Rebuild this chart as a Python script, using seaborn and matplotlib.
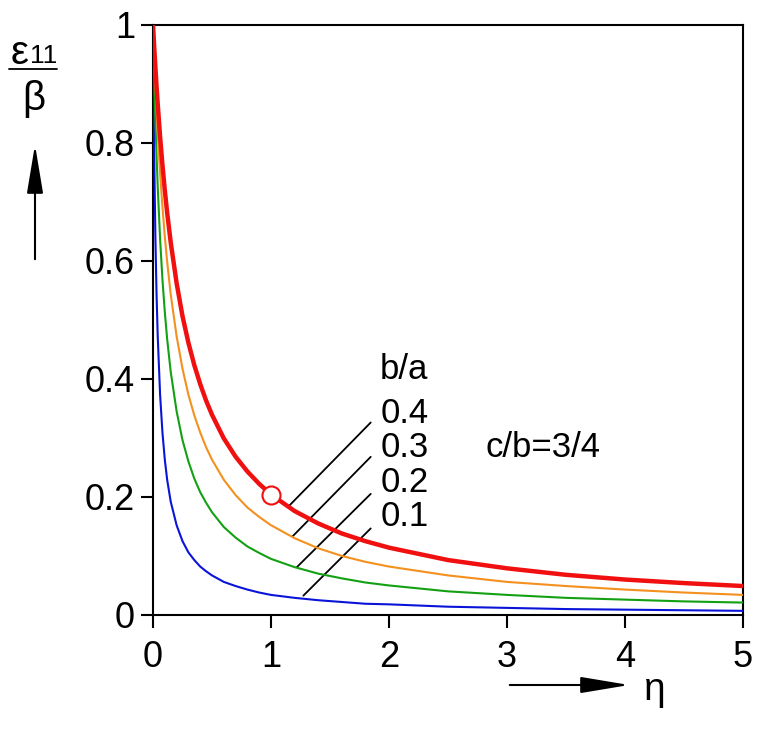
import matplotlib
matplotlib.use("Agg")
import matplotlib.pyplot as plt
import pandas as pd
import seaborn as sns

# eta grid and curve values
eta = [0, 0.01, 0.02, 0.03, 0.04, 0.06, 0.08, 0.1, 0.12, 0.15, 0.2, 0.25, 0.3,
       0.35, 0.4, 0.45, 0.5, 0.6, 0.7, 0.8, 0.9, 1.0, 1.2, 1.4, 1.6, 1.8, 2.0,
       2.5, 3.0, 3.5, 4.0, 4.5, 5.0]
eps_01 = [1, 0.781, 0.641, 0.543, 0.472, 0.373, 0.309, 0.263, 0.229, 0.192, 0.152,
          0.125, 0.106, 0.093, 0.082, 0.074, 0.067, 0.056, 0.049, 0.043, 0.038,
          0.034, 0.029, 0.025, 0.022, 0.019, 0.018, 0.014, 0.012, 0.010, 0.009,
          0.008, 0.007]
eps_02 = [1, 0.913, 0.840, 0.778, 0.725, 0.637, 0.568, 0.513, 0.467, 0.412, 0.345,
          0.296, 0.260, 0.231, 0.208, 0.190, 0.174, 0.149, 0.131, 0.116, 0.105,
          0.095, 0.081, 0.070, 0.062, 0.055, 0.050, 0.040, 0.034, 0.029, 0.026,
          0.023, 0.021]
eps_03 = [1, 0.947, 0.899, 0.856, 0.817, 0.749, 0.691, 0.641, 0.598, 0.543, 0.472,
          0.417, 0.373, 0.338, 0.309, 0.284, 0.263, 0.229, 0.203, 0.182, 0.166,
          0.152, 0.130, 0.113, 0.100, 0.090, 0.082, 0.067, 0.056, 0.049, 0.043,
          0.038, 0.034]
eps_04 = [1, 0.962, 0.928, 0.895, 0.865, 0.810, 0.762, 0.719, 0.681, 0.631, 0.562,
          0.506, 0.461, 0.423, 0.391, 0.363, 0.339, 0.299, 0.268, 0.243, 0.222,
          0.204, 0.176, 0.155, 0.138, 0.125, 0.114, 0.093, 0.079, 0.068, 0.060,
          0.054, 0.049]

ratios = ["0.1", "0.2", "0.3", "0.4"]
colors = ["#0a14d8", "#13a013", "#f4901e", "#f01010"]
widths = [1.5, 1.5, 1.5, 3.2]

# marked point on the b/a=0.4 curve
mark_eta = [1.0]
mark_eps = [0.204]

# leader lines: (start on curve) -> (end near label)
lead_x0 = [1.274, 1.218, 1.184, 1.147]
lead_y0 = [0.0327, 0.0808, 0.1334, 0.1836]
lead_x1 = [1.845, 1.845, 1.845, 1.845]
lead_y1 = [0.1466, 0.2051, 0.2678, 0.3260]
label_y = [0.166, 0.224, 0.283, 0.342]

sns.set_style("ticks")
plt.rcParams["font.family"] = ["Liberation Sans", "DejaVu Sans"]
plt.rcParams["text.color"] = "black"

df = pd.DataFrame({
    "eta": eta * 4,
    "eps": eps_01 + eps_02 + eps_03 + eps_04,
    "ba": sum([[r] * len(eta) for r in ratios], []),
})

fig = plt.figure(figsize=(7.62, 7.38), dpi=100)
ax = fig.add_axes([0.2008, 0.1667, 0.7743, 0.8001])

for r, c, w in zip(ratios, colors, widths):
    sns.lineplot(data=df[df["ba"] == r], x="eta", y="eps", color=c, lw=w,
                 ax=ax, legend=False, zorder=3)

ax.plot(mark_eta, mark_eps, "o", ms=13, mfc="white", mec="#f01010", mew=1.5, zorder=4)

for x0, y0, x1, y1 in zip(lead_x0, lead_y0, lead_x1, lead_y1):
    ax.plot([x0, x1], [y0, y1], color="black", lw=1.3, zorder=2)

fs = 26
afs = 25
for r, y in zip(ratios, label_y):
    ax.text(1.925, y, r, fontsize=afs, ha="left", va="center")
ax.text(1.925, 0.415, "b/a", fontsize=afs, ha="left", va="center")
ax.text(2.82, 0.283, "c/b=3/4", fontsize=afs, ha="left", va="center")

ax.set_xlim(0, 5)
ax.set_ylim(0, 1)
ax.set_xticks([0, 1, 2, 3, 4, 5])
ax.set_xticklabels(["0", "1", "2", "3", "4", "5"])
ax.set_yticks([0, 0.2, 0.4, 0.6, 0.8, 1.0])
ax.set_yticklabels(["0", "0.2", "0.4", "0.6", "0.8", "1"])
ax.set_xlabel("")
ax.set_ylabel("")
for s in ax.spines.values():
    s.set_visible(True)
    s.set_linewidth(1.5)
    s.set_color("black")
ax.tick_params(axis="both", direction="out", length=9, width=1.5,
               labelsize=fs, colors="black", top=False, right=False)
ax.tick_params(axis="y", pad=4)
ax.tick_params(axis="x", pad=9)

# y axis label: eps_11 / beta with upward arrow
W, H = 762, 738
fig.text(20 / W, 1 - 53 / H, "ε", fontsize=29, ha="center", va="center")
fig.text(44 / W, 1 - 56 / H, "11", fontsize=19, ha="center", va="center")
fig.add_artist(plt.Line2D([9 / W, 57 / W], [1 - 69 / H, 1 - 69 / H],
                          color="black", lw=1.3))
fig.text(34 / W, 1 - 99 / H, "β", fontsize=29, ha="center", va="center")
ax.annotate("", xy=(35 / W, 1 - 142 / H), xytext=(35 / W, 1 - 262 / H),
            xycoords="figure fraction", textcoords="figure fraction",
            arrowprops=dict(arrowstyle="-|>,head_length=1.5,head_width=0.25",
                            color="black", lw=1.5, mutation_scale=20))
ax.annotate("", xy=(632 / W, 1 - 685 / H), xytext=(507 / W, 1 - 685 / H),
            xycoords="figure fraction", textcoords="figure fraction",
            arrowprops=dict(arrowstyle="-|>,head_length=1.5,head_width=0.25",
                            color="black", lw=1.5, mutation_scale=20))
fig.text(655 / W, 1 - 690 / H, "η", fontsize=28, ha="center", va="center")

fig.savefig("out.png", dpi=100)
